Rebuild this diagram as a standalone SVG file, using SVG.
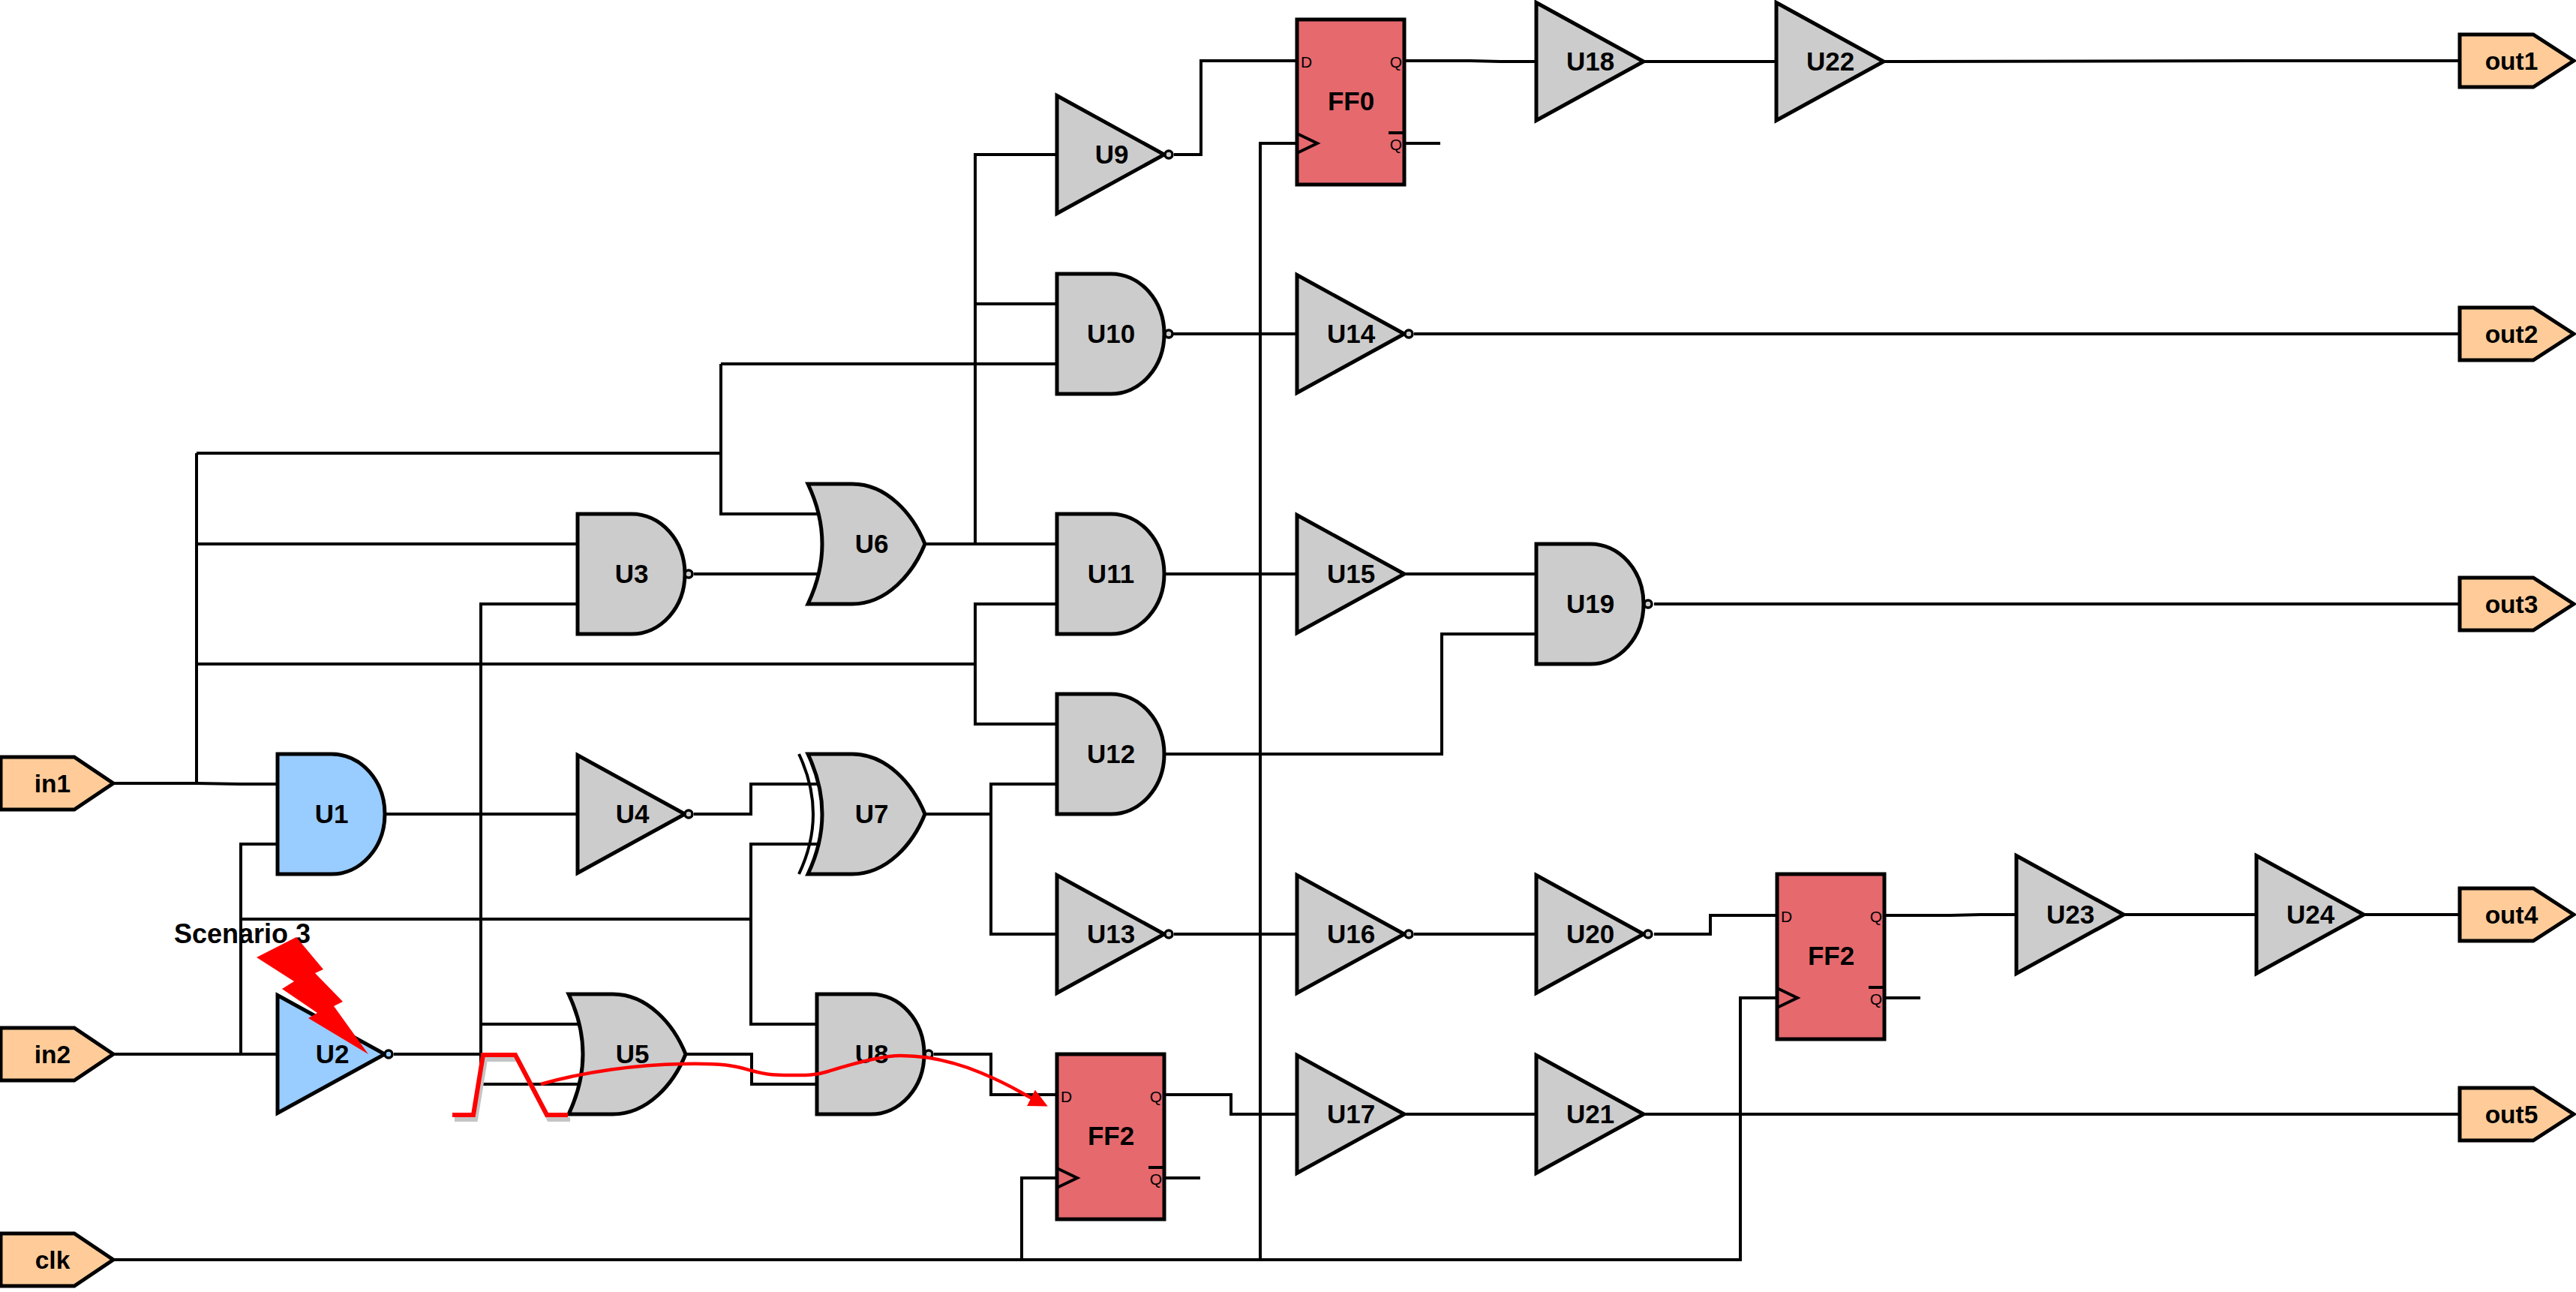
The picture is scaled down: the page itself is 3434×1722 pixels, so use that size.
<svg xmlns="http://www.w3.org/2000/svg" width="3434" height="1722" viewBox="0 0 3434 1722">
<style>
text{font-family:"Liberation Sans",Arial,sans-serif;fill:#000}
.lbl{font-size:35px;font-weight:700;text-anchor:middle}
.port{font-size:33.5px;font-weight:700;text-anchor:middle}
.pin{font-size:21px}
.end{text-anchor:end}
.wires path{fill:none;stroke:#000;stroke-width:4;stroke-linejoin:miter}
.shape{stroke:#000;stroke-width:5;stroke-linejoin:miter}
.grey{fill:#ccc}
.blue{fill:#9cf}
.ffc{fill:#e6696e}
.orange{fill:#fc9}
.bub{stroke:#000;stroke-width:3.5}
</style>
<defs>
<path id="and" class="shape" d="M0,-80H72A71,80 0 0 1 72,80H0Z"/>
<path id="or" class="shape" d="M0,-80H59C105,-80 140,-40 156,0C140,40 105,80 59,80H0Q38,0 0,-80Z"/>
<path id="tri" class="shape" d="M0,-78.5L143,0L0,78.5Z"/>
<path id="ff" class="shape" d="M0,0H143V220H0Z"/>
<path id="clkmark" d="M0,152L27,165L0,178" fill="none" stroke="#000" stroke-width="4"/>
<path id="inport" class="shape" d="M1,-35H99L151,0L99,35H1Z"/>
<path id="outport" class="shape" d="M0,-35H98L152,0L98,35H0Z"/>
<marker id="redhead" markerUnits="userSpaceOnUse" markerWidth="30" markerHeight="30" refX="4" refY="15" orient="auto"><path d="M0,3L25,15L0,27Z" fill="#f00"/></marker>
</defs>
<rect width="3434" height="1722" fill="#fff"/>
<g id="connectors" class="wires">
<path d="M152,1044H262L320,1045H370"/>
<path d="M262,1044V604"/>
<path d="M262,604H961"/>
<path d="M262,725H770"/>
<path d="M262,885H1300"/>
<path d="M961,485V685H1090"/>
<path d="M961,485H1409"/>
<path d="M152,1405H370"/>
<path d="M370,1125H321V1405"/>
<path d="M321,1225H1001"/>
<path d="M514,1085H770"/>
<path d="M770,805H641V1445H771"/>
<path d="M641,1365H771"/>
<path d="M525,1405H641"/>
<path d="M925,765H1095"/>
<path d="M925,1085H1001V1045H1090"/>
<path d="M1090,1125H1001V1365H1090"/>
<path d="M913,1405H1002V1445H1090"/>
<path d="M1233,725H1409"/>
<path d="M1409,206H1300V725"/>
<path d="M1300,405H1409"/>
<path d="M1409,805H1300V965H1409"/>
<path d="M1233,1085H1321"/>
<path d="M1409,1045H1321V1245H1409"/>
<path d="M1565,206H1601V81H1729"/>
<path d="M1552,445H1729"/>
<path d="M1552,765H1729"/>
<path d="M1552,1005H1922V845H2048"/>
<path d="M1565,1245H1729"/>
<path d="M1245,1405H1321V1459H1409"/>
<path d="M1553,1459H1641V1485H1729"/>
<path d="M1553,1570H1600"/>
<path d="M1409,1570H1362V1679"/>
<path d="M152,1679H2320V1330H2368"/>
<path d="M1680,1679V191H1729"/>
<path d="M1872,191H1920"/>
<path d="M1872,81H1960L2000,82H2048"/>
<path d="M2190,82H2368"/>
<path d="M2510,82L3000,81H3279"/>
<path d="M1885,445H3279"/>
<path d="M1872,765H2048"/>
<path d="M2205,805H3279"/>
<path d="M1885,1245H2048"/>
<path d="M2205,1245H2280V1220H2368"/>
<path d="M2512,1220H2600L2640,1219H2688"/>
<path d="M2512,1330H2560"/>
<path d="M2830,1219H3008"/>
<path d="M3150,1219H3279"/>
<path d="M1872,1485H2048"/>
<path d="M2190,1485H3279"/>
</g>
<g id="in1" class="orange" transform="translate(0,1044)"><use href="#inport"/><text class="port" x="70" y="12">in1</text></g>
<g id="in2" class="orange" transform="translate(0,1405)"><use href="#inport"/><text class="port" x="70" y="12">in2</text></g>
<g id="clk" class="orange" transform="translate(0,1679)"><use href="#inport"/><text class="port" x="70" y="12">clk</text></g>
<g id="out1" class="orange" transform="translate(3279,81)"><use href="#outport"/><text class="port" x="69" y="12">out1</text></g>
<g id="out2" class="orange" transform="translate(3279,445)"><use href="#outport"/><text class="port" x="69" y="12">out2</text></g>
<g id="out3" class="orange" transform="translate(3279,805)"><use href="#outport"/><text class="port" x="69" y="12">out3</text></g>
<g id="out4" class="orange" transform="translate(3279,1219)"><use href="#outport"/><text class="port" x="69" y="12">out4</text></g>
<g id="out5" class="orange" transform="translate(3279,1485)"><use href="#outport"/><text class="port" x="69" y="12">out5</text></g>
<g id="U1" class="blue" transform="translate(370,1085)"><use href="#and"/><text class="lbl" x="72" y="12">U1</text></g>
<g id="U2" class="blue" transform="translate(370,1405)"><use href="#tri"/><circle class="bub" cx="148" cy="0" r="5"/><text class="lbl" x="73" y="12">U2</text></g>
<g id="U3" class="grey" transform="translate(770,765)"><use href="#and"/><circle class="bub" cx="148" cy="0" r="5"/><text class="lbl" x="72" y="12">U3</text></g>
<g id="U4" class="grey" transform="translate(770,1085)"><use href="#tri"/><circle class="bub" cx="148" cy="0" r="5"/><text class="lbl" x="73" y="12">U4</text></g>
<g id="U5" class="grey" transform="translate(758,1405)"><use href="#or"/><text class="lbl" x="85" y="12">U5</text></g>
<g id="U6" class="grey" transform="translate(1077,725)"><use href="#or"/><text class="lbl" x="85" y="12">U6</text></g>
<g id="U7" class="grey" transform="translate(1077,1085)"><path d="M-12,-80Q26,0 -12,80" fill="none" stroke="#000" stroke-width="4"/><use href="#or"/><text class="lbl" x="85" y="12">U7</text></g>
<g id="U8" class="grey" transform="translate(1089,1405)"><use href="#and"/><circle class="bub" cx="149" cy="0" r="5"/><text class="lbl" x="73" y="12">U8</text></g>
<g id="U9" class="grey" transform="translate(1409,206)"><use href="#tri"/><circle class="bub" cx="149" cy="0" r="5"/><text class="lbl" x="73" y="12">U9</text></g>
<g id="U10" class="grey" transform="translate(1409,445)"><use href="#and"/><circle class="bub" cx="149" cy="0" r="5"/><text class="lbl" x="72" y="12">U10</text></g>
<g id="U11" class="grey" transform="translate(1409,765)"><use href="#and"/><text class="lbl" x="72" y="12">U11</text></g>
<g id="U12" class="grey" transform="translate(1409,1005)"><use href="#and"/><text class="lbl" x="72" y="12">U12</text></g>
<g id="U13" class="grey" transform="translate(1409,1245)"><use href="#tri"/><circle class="bub" cx="149" cy="0" r="5"/><text class="lbl" x="72" y="12">U13</text></g>
<g id="U14" class="grey" transform="translate(1729,445)"><use href="#tri"/><circle class="bub" cx="149" cy="0" r="5"/><text class="lbl" x="72" y="12">U14</text></g>
<g id="U15" class="grey" transform="translate(1729,765)"><use href="#tri"/><text class="lbl" x="72" y="12">U15</text></g>
<g id="U16" class="grey" transform="translate(1729,1245)"><use href="#tri"/><circle class="bub" cx="149" cy="0" r="5"/><text class="lbl" x="72" y="12">U16</text></g>
<g id="U17" class="grey" transform="translate(1729,1485)"><use href="#tri"/><text class="lbl" x="72" y="12">U17</text></g>
<g id="U18" class="grey" transform="translate(2048,82)"><use href="#tri"/><text class="lbl" x="72" y="12">U18</text></g>
<g id="U19" class="grey" transform="translate(2048,805)"><use href="#and"/><circle class="bub" cx="149" cy="0" r="5"/><text class="lbl" x="72" y="12">U19</text></g>
<g id="U20" class="grey" transform="translate(2048,1245)"><use href="#tri"/><circle class="bub" cx="149" cy="0" r="5"/><text class="lbl" x="72" y="12">U20</text></g>
<g id="U21" class="grey" transform="translate(2048,1485)"><use href="#tri"/><text class="lbl" x="72" y="12">U21</text></g>
<g id="U22" class="grey" transform="translate(2368,82)"><use href="#tri"/><text class="lbl" x="72" y="12">U22</text></g>
<g id="U23" class="grey" transform="translate(2688,1219)"><use href="#tri"/><text class="lbl" x="72" y="12">U23</text></g>
<g id="U24" class="grey" transform="translate(3008,1219)"><use href="#tri"/><text class="lbl" x="72" y="12">U24</text></g>
<g id="FF0" class="ffc" transform="translate(1729,26)"><use href="#ff"/><use href="#clkmark"/><path d="M122,151H141" stroke="#000" stroke-width="4"/><text class="pin" x="5" y="64">D</text><text class="pin end" x="140" y="64">Q</text><text class="pin end" x="140" y="174">Q</text><text class="lbl" x="72" y="121">FF0</text></g>
<g id="FF2a" class="ffc" transform="translate(1409,1405)"><use href="#ff"/><use href="#clkmark"/><path d="M122,151H141" stroke="#000" stroke-width="4"/><text class="pin" x="5" y="64">D</text><text class="pin end" x="140" y="64">Q</text><text class="pin end" x="140" y="174">Q</text><text class="lbl" x="72" y="121">FF2</text></g>
<g id="FF2b" class="ffc" transform="translate(2369,1165)"><use href="#ff"/><use href="#clkmark"/><path d="M122,151H141" stroke="#000" stroke-width="4"/><text class="pin" x="5" y="64">D</text><text class="pin end" x="140" y="64">Q</text><text class="pin end" x="140" y="174">Q</text><text class="lbl" x="72" y="121">FF2</text></g>
<g id="scenario"><text x="232" y="1257" font-size="36" font-weight="700">Scenario 3</text>
<polygon points="342,1276 395,1249 431,1292 420,1297 457,1335 445,1341 491,1405 411,1357 423,1350 376,1318 392,1308" fill="#f00"/></g>
<g id="glitch" fill="none">
<polyline points="606,1492 634,1492 647,1412 690,1412 732,1492 760,1492" stroke="#c4c4c4" stroke-width="6"/>
<polyline points="603,1486 631,1486 644,1406 687,1406 729,1486 757,1486" stroke="#f00" stroke-width="6"/>
<path d="M721,1445C780,1428 850,1419 910,1418S980,1421 1002,1427S1035,1433 1053,1433S1085,1434 1104,1428S1170,1407 1201,1407S1265,1412 1308,1430S1356,1454 1378,1465" stroke="#f00" stroke-width="4.5" marker-end="url(#redhead)"/>
</g>
</svg>
